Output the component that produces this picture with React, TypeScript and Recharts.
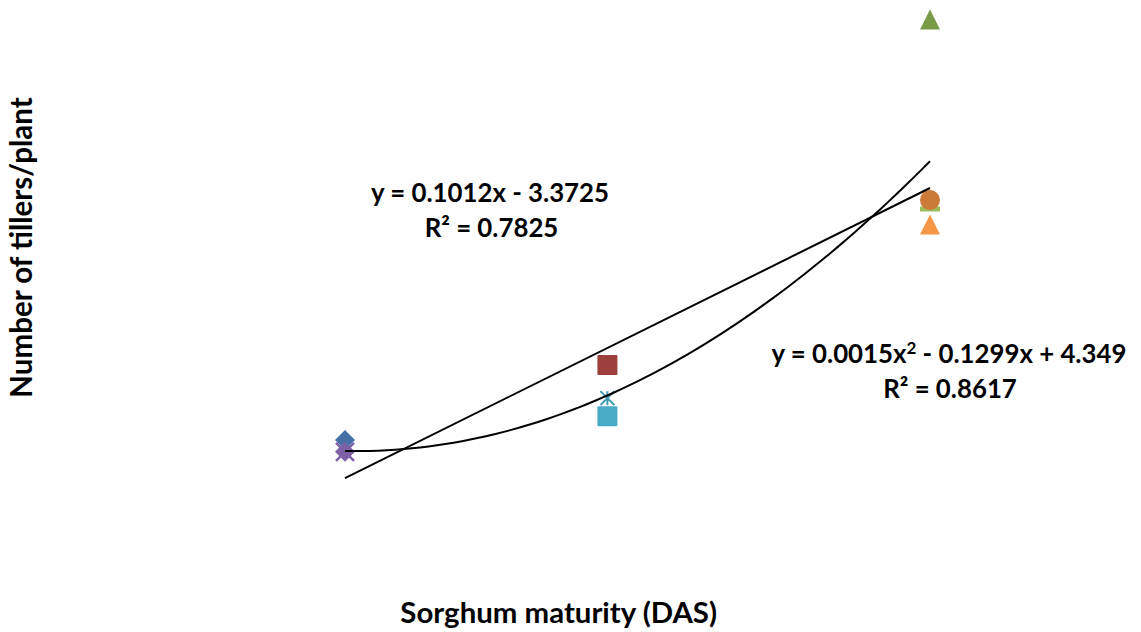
import React from 'react'
import { ScatterChart, Scatter, XAxis, YAxis } from 'recharts'

// maturity (days after sowing) and tillers per plant
const diamondBlue = [{ das: 42, tillers: 1.81 }]
const diamondPurple = [{ das: 42, tillers: 1.52 }]
const squareRed = [{ das: 73.4, tillers: 3.64 }]
const starCyan = [{ das: 73.4, tillers: 2.83 }]
const squareCyan = [{ das: 73.4, tillers: 2.39 }]
const triangleGreen = [{ das: 112, tillers: 12.08 }]
const circleOrange = [{ das: 112, tillers: 7.67 }]
const dashGreen = [{ das: 112, tillers: 7.45 }]
const triangleOrange = [{ das: 112, tillers: 7.07 }]

// trendline equations printed on the chart
const linearCoef = [0.1012, -3.3725]
const quadCoef = [0.0015, -0.1299, 4.349]
const trendRange = [42, 112]

const linearTrend = trendRange.map((d) => ({ das: d, tillers: linearCoef[0] * d + linearCoef[1] }))
const quadTrend: { das: number; tillers: number }[] = []
for (let d = trendRange[0]; d <= trendRange[1]; d += 1) {
  quadTrend.push({ das: d, tillers: quadCoef[0] * d * d + quadCoef[1] * d + quadCoef[2] })
}

const font = 'Lato, "Open Sans", sans-serif'

const Diamond = ({ cx, cy, fill }: any) => (
  <polygon points={`${cx},${cy - 10} ${cx + 10},${cy} ${cx},${cy + 10} ${cx - 10},${cy}`} fill={fill} />
)

const DiamondCross = ({ cx, cy, fill }: any) => (
  <g>
    <path d={`M${cx - 9},${cy - 9}L${cx + 9},${cy + 9}M${cx + 9},${cy - 9}L${cx - 9},${cy + 9}`} stroke={fill} strokeWidth={2.5} />
    <polygon points={`${cx},${cy - 10} ${cx + 10},${cy} ${cx},${cy + 10} ${cx - 10},${cy}`} fill={fill} />
  </g>
)

const Square = ({ cx, cy, fill }: any) => <rect x={cx - 10} y={cy - 10} width={20} height={20} rx={1} fill={fill} />

const Triangle = ({ cx, cy, fill }: any) => (
  <polygon points={`${cx},${cy - 10} ${cx + 10},${cy + 10} ${cx - 10},${cy + 10}`} fill={fill} />
)

const Circle = ({ cx, cy, fill }: any) => <circle cx={cx} cy={cy} r={10} fill={fill} />

const Dash = ({ cx, cy, fill }: any) => <rect x={cx - 10} y={cy - 2.5} width={20} height={5} fill={fill} />

const Star = ({ cx, cy, fill }: any) => (
  <path
    d={`M${cx},${cy - 7}L${cx},${cy + 7}M${cx - 7},${cy - 7}L${cx + 7},${cy + 7}M${cx + 7},${cy - 7}L${cx - 7},${cy + 7}`}
    stroke={fill}
    strokeWidth={2}
  />
)

const NoDot = () => <g />

export default function App() {
  return (
    <div style={{ marginLeft: -8 }}>
      <ScatterChart width={1133} height={620} margin={{ top: 2.4, right: 10.8, bottom: 32.1, left: 77.57 }}>
        <XAxis type="number" dataKey="das" domain={[10, 135]} hide />
        <YAxis type="number" dataKey="tillers" domain={[-2, 12.3]} hide />
        <Scatter data={diamondBlue} fill="#4470a5" shape={Diamond} isAnimationActive={false} />
        <Scatter data={diamondPurple} fill="#7d60a6" shape={DiamondCross} isAnimationActive={false} />
        <Scatter data={squareRed} fill="#9c3f3d" shape={Square} isAnimationActive={false} />
        <Scatter data={squareCyan} fill="#4aabc6" shape={Square} isAnimationActive={false} />
        <Scatter data={starCyan} fill="#3c9ab3" shape={Star} isAnimationActive={false} />
        <Scatter data={triangleGreen} fill="#7b9a47" shape={Triangle} isAnimationActive={false} />
        <Scatter data={triangleOrange} fill="#f79646" shape={Triangle} isAnimationActive={false} />
        <Scatter data={dashGreen} fill="#9bbb59" shape={Dash} isAnimationActive={false} />
        <Scatter data={circleOrange} fill="#cc7a38" shape={Circle} isAnimationActive={false} />
        <Scatter data={linearTrend} line={{ stroke: '#000', strokeWidth: 2 }} shape={NoDot} isAnimationActive={false} />
        <Scatter data={quadTrend} line={{ stroke: '#000', strokeWidth: 2 }} shape={NoDot} isAnimationActive={false} />
        <text x={490} y={193.5} textAnchor="middle" fontFamily={font} fontWeight="bold" fontSize={25.8} fill="#000">
          y = 0.1012x - 3.3725
        </text>
        <text x={491.5} y={228.7} textAnchor="middle" fontFamily={font} fontWeight="bold" fontSize={25.8} fill="#000">
          R² = 0.7825
        </text>
        <text x={949} y={355.3} textAnchor="middle" fontFamily={font} fontWeight="bold" fontSize={25.8} fill="#000">
          y = 0.0015x<tspan dy={-9} fontSize={17}>2</tspan>
          <tspan dy={9}> - 0.1299x + 4.349</tspan>
        </text>
        <text x={950} y={390.3} textAnchor="middle" fontFamily={font} fontWeight="bold" fontSize={25.8} fill="#000">
          R² = 0.8617
        </text>
        <text x={558.7} y={615.3} textAnchor="middle" fontFamily={font} fontWeight="bold" fontSize={29.4} fill="#000">
          Sorghum maturity (DAS)
        </text>
        <text
          x={0}
          y={0}
          transform="translate(32, 239.5) rotate(-90)"
          textAnchor="middle"
          fontFamily={font}
          fontWeight="bold"
          fontSize={29.5}
          fill="#000"
        >
          Number of tillers/plant
        </text>
      </ScatterChart>
    </div>
  )
}
